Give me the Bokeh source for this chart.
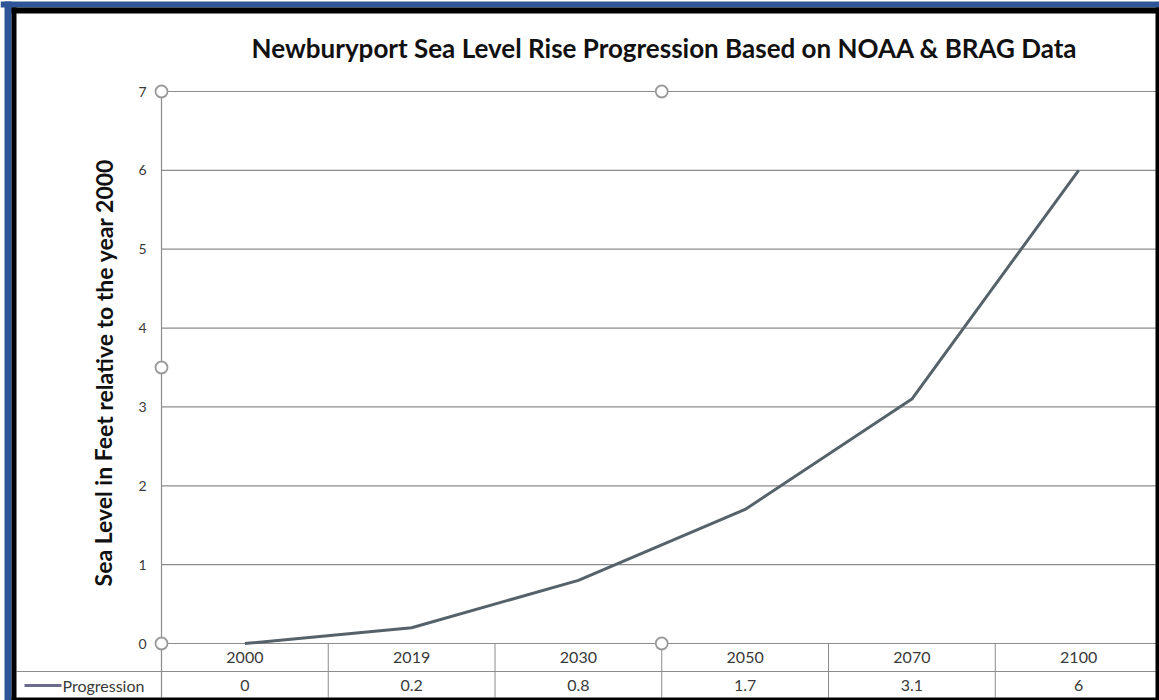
from bokeh.plotting import figure
from bokeh.models import Range1d, ColumnDataSource
from bokeh.core.properties import value
from bokeh.embed import file_html
from bokeh.resources import INLINE

# --- data -------------------------------------------------------------
years = ["2000", "2019", "2030", "2050", "2070", "2100"]
progression = [0, 0.2, 0.8, 1.7, 3.1, 6]
y_ticks = [0, 1, 2, 3, 4, 5, 6, 7]
series_name = "Progression"
title_text = "Newburyport Sea Level Rise Progression Based on NOAA & BRAG Data"
y_label = "Sea Level in Feet relative to the year 2000"

# --- page geometry (pixels) --------------------------------------------
W, H = 1159, 700
X0_PX = 161.0        # left edge of the category area
COL_PX = 166.75      # width of one category column
Y0_PX = 643.0        # pixel row of value 0
UNIT_PX = 78.857     # pixels per foot


def dx(px):
    return (px - X0_PX) / COL_PX


def dy(py):
    return (Y0_PX - py) / UNIT_PX


FONT = "Lato"
GRID = "#8c8c8c"
TEXT = "#3a3a3a"

p = figure(width=W, height=H, output_backend="svg", toolbar_location=None,
           x_range=Range1d(dx(0), dx(W)), y_range=Range1d(dy(H), dy(0)),
           x_axis_location=None, y_axis_location=None, title=None,
           min_border=0)
p.outline_line_color = None
p.grid.visible = False
p.background_fill_color = "white"
p.border_fill_color = "white"

n = len(years)
ymax = y_ticks[-1]

# horizontal gridlines across the category area
p.segment(x0=[0] * len(y_ticks), x1=[n] * len(y_ticks), y0=y_ticks, y1=y_ticks,
          line_color=GRID, line_width=1.2)
# value axis line, running down through the data table
p.segment(x0=[0], x1=[0], y0=[dy(697)], y1=[ymax], line_color=GRID, line_width=1.2)

# tick labels
p.text(x=[dx(146)] * len(y_ticks), y=y_ticks, text=[str(t) for t in y_ticks],
       text_font=value(FONT), text_font_size="14px", text_color=TEXT,
       text_align="right", text_baseline="middle")

# data table below the chart
row_sep = dy(671)
p.segment(x0=[dx(16)], x1=[n], y0=[row_sep], y1=[row_sep], line_color=GRID, line_width=1.2)
p.segment(x0=list(range(1, n)), x1=list(range(1, n)), y0=[dy(697)] * (n - 1),
          y1=[0] * (n - 1), line_color=GRID, line_width=1.0)
centers = [i + 0.5 for i in range(n)]
p.text(x=centers, y=[dy(657)] * n, text=years, text_font=value(FONT),
       text_font_size="16px", text_color=TEXT, text_align="center", text_baseline="middle")
p.text(x=centers, y=[dy(685)] * n, text=[f"{v:g}" for v in progression],
       text_font=value(FONT), text_font_size="16px", text_color=TEXT,
       text_align="center", text_baseline="middle")

# legend key inside the table
p.segment(x0=[dx(24)], x1=[dx(61)], y0=[dy(685)], y1=[dy(685)],
          line_color="#6b6b8e", line_width=3)
p.text(x=[dx(62)], y=[dy(685)], text=[series_name], text_font=value(FONT),
       text_font_size="16px", text_color=TEXT, text_align="left", text_baseline="middle")

# the series
src = ColumnDataSource(dict(x=centers, y=progression))
p.line("x", "y", source=src, line_color="#56626a", line_width=3, line_join="round")

# selection handles of the chart area
hx = [0, n / 2, 0, 0, n / 2]
hy = [ymax, ymax, ymax / 2, 0, 0]
p.scatter(x=hx, y=hy, size=12, marker="circle", fill_color="white",
          line_color="#9a9a9a", line_width=1.8)

# title and axis title
p.text(x=[dx(664)], y=[dy(47)], text=[title_text], text_font=value(FONT),
       text_font_style="bold", text_font_size="26px", text_color="#111111",
       text_align="center", text_baseline="middle")
p.text(x=[dx(103)], y=[dy(372)], text=[y_label], text_font=value(FONT),
       text_font_style="bold", text_font_size="23px", text_color="#111111",
       text_align="center", text_baseline="middle", angle=1.5707963)

# frame: dark blue outer band, black inner band
p.quad(left=[dx(0)], right=[dx(W)], bottom=[dy(7)], top=[dy(1)],
       fill_color="#2e5597", line_color=None)
p.quad(left=[dx(4)], right=[dx(11)], bottom=[dy(H)], top=[dy(1)],
       fill_color="#2e5597", line_color=None)
p.quad(left=[dx(11)], right=[dx(W)], bottom=[dy(13)], top=[dy(7)],
       fill_color="black", line_color=None)
p.quad(left=[dx(11)], right=[dx(16)], bottom=[dy(H)], top=[dy(7)],
       fill_color="black", line_color=None)
p.quad(left=[dx(1155)], right=[dx(W)], bottom=[dy(H)], top=[dy(7)],
       fill_color="black", line_color=None)
p.quad(left=[dx(11)], right=[dx(W)], bottom=[dy(H)], top=[dy(697)],
       fill_color="black", line_color=None)

open("out.html", "w").write(file_html(p, INLINE))
